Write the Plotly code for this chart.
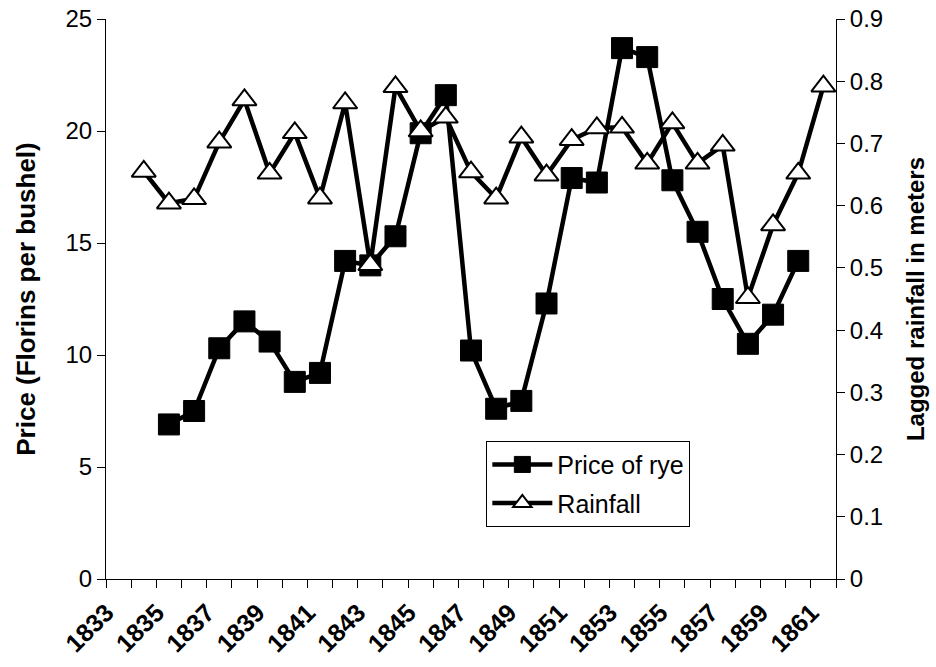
import plotly.graph_objects as go

# Annual series, 1834-1861
years = list(range(1833, 1862))
price_years = list(range(1835, 1861))
price_of_rye = [6.9, 7.5, 10.3, 11.5, 10.6, 8.8, 9.2, 14.2, 14.0, 15.3, 19.9, 21.6,
                10.2, 7.6, 7.95, 12.3, 17.9, 17.7, 23.7, 23.3, 17.8, 15.5, 12.5,
                10.5, 11.8, 14.2]
rain_years = list(range(1834, 1862))
rainfall = [0.655, 0.604, 0.611, 0.702, 0.770, 0.652, 0.717, 0.612, 0.765, 0.505,
            0.791, 0.720, 0.742, 0.654, 0.612, 0.710, 0.649, 0.706, 0.725, 0.726,
            0.668, 0.733, 0.668, 0.697, 0.452, 0.569, 0.652, 0.792]
label_years = years[::2]

FONT = "Liberation Sans, Arial, sans-serif"

fig = go.Figure()
fig.add_trace(go.Scatter(
    x=price_years, y=price_of_rye, name="Price of rye", mode="lines+markers",
    legendgroup="price",
    line=dict(color="black", width=4.5),
    marker=dict(symbol="square", size=21, color="black",
                line=dict(color="black", width=1)),
    yaxis="y"))
fig.add_trace(go.Scatter(
    x=rain_years, y=rainfall, name="Rainfall", mode="lines+markers",
    legendgroup="rain",
    line=dict(color="black", width=4.5),
    marker=dict(symbol="triangle-up", size=21, color="white",
                line=dict(color="black", width=2)),
    yaxis="y2"))

fig.update_layout(
    width=936, height=667,
    margin=dict(l=106, r=100, t=19, b=88, autoexpand=False),
    paper_bgcolor="white", plot_bgcolor="white",
    font=dict(family=FONT, size=24, color="black"),
    showlegend=True,
    legend=dict(x=0.521, y=0.247, xanchor="left", yanchor="top",
                bordercolor="black", borderwidth=1, bgcolor="white",
                font=dict(size=25), itemwidth=60, traceorder="grouped",
                tracegroupgap=3),
    xaxis=dict(
        range=[1832.5, 1861.5], tickmode="array", tickvals=label_years,
        ticktext=[str(y) for y in label_years], tickangle=-45, ticks="",
        tickfont=dict(size=25, family=FONT, weight="bold"),
        ticklabelshift=-12, ticklabelstandoff=8, automargin=False,
        showline=True, linecolor="black", linewidth=1, showgrid=False,
        zeroline=False,
        minor=dict(ticks="outside", tickmode="linear", tick0=1832.5, dtick=1,
                   ticklen=8, tickcolor="black", tickwidth=1, showgrid=False)),
    yaxis=dict(
        range=[0, 25], tickmode="linear", tick0=0, dtick=5, ticks="outside",
        ticklen=8, tickcolor="black", showline=True, linecolor="black",
        linewidth=1, showgrid=False, zeroline=False, automargin=False,
        title=dict(text="<b>Price (Florins per bushel)</b>", standoff=22,
                   font=dict(size=26))),
    yaxis2=dict(
        range=[0, 0.9], tickmode="linear", tick0=0, dtick=0.1, ticks="outside",
        ticklen=8, tickcolor="black", showline=True, linecolor="black",
        linewidth=1, showgrid=False, zeroline=False, overlaying="y",
        side="right", tickformat=".1~f", automargin=False,
        title=dict(text="<b>Lagged rainfall in meters</b>", standoff=25,
                   font=dict(size=24))),
)

fig.write_html("out.html")
